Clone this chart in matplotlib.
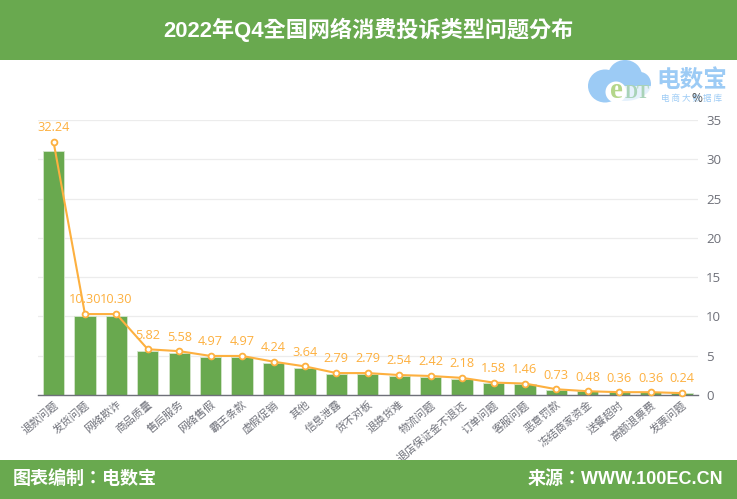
import matplotlib
matplotlib.use("Agg")
import matplotlib.pyplot as plt
from matplotlib.patches import Rectangle, Ellipse
from matplotlib.transforms import ScaledTranslation

plt.rcParams['font.family'] = ['Noto Sans CJK SC', 'DejaVu Sans']

W, H = 737, 499
GREEN = '#69a94f'
ORANGE = '#fdb03f'
LOGO = '#9ccbf5'
BOLD_FONT = ['Liberation Sans', 'Noto Sans CJK TC']

categories = ['退款问题', '发货问题', '网络欺诈', '商品质量', '售后服务', '网络售假', '霸王条款',
              '虚假促销', '其他', '信息泄露', '货不对板', '退换货难', '物流问题', '退店保证金不退还',
              '订单问题', '客服问题', '恶意罚款', '冻结商家资金', '送餐超时', '高额退票费', '发票问题']
line_values = [32.24, 10.30, 10.30, 5.82, 5.58, 4.97, 4.97, 4.24, 3.64, 2.79, 2.79,
               2.54, 2.42, 2.18, 1.58, 1.46, 0.73, 0.48, 0.36, 0.36, 0.24]
bar_values = [31.0, 10.0, 10.0, 5.6, 5.4, 4.8, 4.8, 4.1, 3.5, 2.7, 2.7,
              2.45, 2.35, 2.1, 1.5, 1.4, 0.7, 0.46, 0.35, 0.35, 0.23]
y_ticks = [0, 5, 10, 15, 20, 25, 30, 35]

fig = plt.figure(figsize=(W / 100, H / 100), dpi=100, facecolor='white')

# header and footer bands
fig.add_artist(Rectangle((0, 1 - 60 / H), 1, 60 / H, transform=fig.transFigure, color=GREEN, lw=0))
fig.add_artist(Rectangle((0, 0), 1, 39 / H, transform=fig.transFigure, color=GREEN, lw=0))
fig.text(368 / W, 1 - 30 / H, '2022年Q4全国网络消费投诉类型问题分布', color='white', fontsize=15.9,
         fontweight='bold', ha='center', va='center', family=BOLD_FONT)
fig.text(13 / W, 1 - 479 / H, '图表编制：电数宝', color='white', fontsize=13,
         fontweight='bold', ha='left', va='center', family=BOLD_FONT)
fig.text(723 / W, 1 - 479 / H, '来源：WWW.100EC.CN', color='white', fontsize=13,
         fontweight='bold', ha='right', va='center', family=BOLD_FONT)

# main axes, y goes from 35 at px 120 to 0 at px 395
ax = fig.add_axes([37.8 / W, 1 - 395 / H, 660 / W, 275 / H])
x = range(len(categories))
ax.bar(x, bar_values, width=0.68, color=GREEN, edgecolor='#d5e6cc', linewidth=0.6, zorder=2)
ax.plot(x, line_values, color=ORANGE, lw=1.5, marker='o', ms=4.2, mfc='white', mec=ORANGE,
        mew=1.3, zorder=3, clip_on=False)
for i, v in enumerate(line_values):
    ax.annotate(f'{v:.2f}', (i, v), xytext=(0, 5.5), textcoords='offset points', ha='center',
                va='bottom', color=ORANGE, fontsize=9.2, family=['Open Sans', 'DejaVu Sans'])

ax.set_xlim(-0.5, len(categories) - 0.5)
ax.set_ylim(0, 35)
ax.set_xticks(list(x))
ax.set_xticklabels(categories, rotation=40, ha='right', rotation_mode='anchor',
                   fontsize=7.8, color='#6e7079')
# labels sit a little right of the tick
for lab in ax.get_xticklabels():
    lab.set_transform(lab.get_transform() + ScaledTranslation(2 / 100, 0, fig.dpi_scale_trans))
ax.yaxis.tick_right()
ax.set_yticks(y_ticks)
ax.set_yticklabels([str(t) for t in y_ticks], fontsize=9.5, color='#6e7079',
                   family=['Open Sans', 'DejaVu Sans'])
ax.tick_params(axis='both', length=0, pad=6)
ax.tick_params(axis='x', pad=3)
ax.grid(axis='y', color='#ececec', lw=0.9, zorder=0)
ax.set_axisbelow(True)
for side in ['top', 'left', 'right']:
    ax.spines[side].set_visible(False)
ax.spines['bottom'].set_color('#6e7079')
ax.spines['bottom'].set_linewidth(1)

# logo, pixel space overlay
logo = fig.add_axes([0, 0, 1, 1], facecolor='none')
logo.set_xlim(0, W)
logo.set_ylim(H, 0)
logo.axis('off')
for cx, cy, w, h in [(605, 86, 34, 33), (625, 76, 34, 32), (640, 84, 22, 24), (625, 88, 44, 26)]:
    logo.add_patch(Ellipse((cx, cy), w, h, color=LOGO, lw=0))
logo.add_patch(Rectangle((617, 86), 34, 18, color='white', alpha=0.75, lw=0))
logo.add_patch(Ellipse((616, 92), 21, 21, color='white', lw=0))
logo.text(616, 90, 'e', color='#b4d68a', fontsize=21, fontweight='bold', ha='center', va='center',
          family=['Liberation Serif', 'DejaVu Serif'])
logo.text(637, 93, 'DT', color='#a9d3b8', fontsize=13, fontweight='bold', ha='center', va='center',
          family=['Liberation Serif', 'DejaVu Serif'])
logo.text(692, 80, '电数宝', color=LOGO, fontsize=17, fontweight='bold', ha='center', va='center')
logo.text(692, 98.5, '电 商 大 数 据 库', color=LOGO, fontsize=6.2, ha='center', va='center')
logo.text(697, 98, '%', color='#555555', fontsize=8.5, ha='center', va='center')

fig.savefig('out.png', dpi=100)
